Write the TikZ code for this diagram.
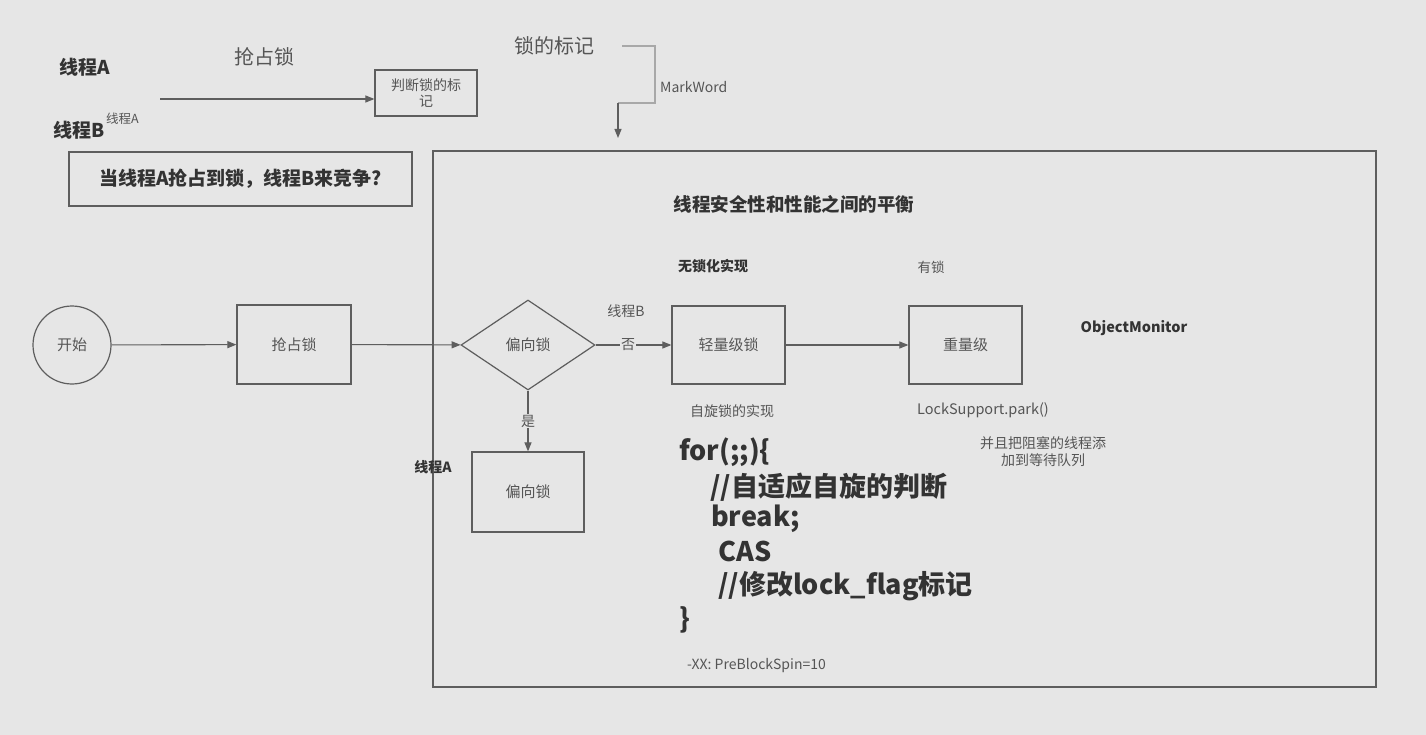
\documentclass[tikz,border=0pt]{standalone}
\usepackage{fontspec}
\setmainfont{Noto Sans CJK SC}
\usetikzlibrary{shapes.geometric,arrows.meta}
\definecolor{bg}{HTML}{E6E6E6}
\definecolor{ln}{HTML}{5E5E5E}
\definecolor{lnlight}{HTML}{A8A8A8}
\definecolor{txt}{HTML}{555555}
\definecolor{txtb}{HTML}{333333}
\tikzset{
  lbl/.style={inner sep=0pt, text=txt},
  lblb/.style={inner sep=0pt, text=txtb, font=\bfseries},
  boxn/.style={draw=ln, line width=1.2pt, inner sep=2pt, text=txt, align=center},
  conn/.style={draw=ln, line width=1.1pt, -{Triangle[length=9pt,width=7pt]}},
  codeb/.style={anchor=west, inner sep=0pt, text=txtb, font=\fontsize{27}{32}\selectfont\bfseries},
}
\newcommand\szz[2]{\fontsize{#1}{#2}\selectfont}
\begin{document}
\begin{tikzpicture}[x=1pt,y=-1pt]
\useasboundingbox (0,0) rectangle (1426,735);
\fill[bg] (0,0) rectangle (1426,735);

% top-left labels
\node[lblb, font=\szz{19}{23}\bfseries] (tA) at (85,67) {线程A};
\node[lbl, font=\szz{20}{24}] (grabt) at (264,57) {抢占锁};
\node[lblb, font=\szz{19}{23}\bfseries, anchor=west] (tB) at (53,130) {线程B};
\node[lbl, font=\szz{12.5}{15}, anchor=west] (tBsup) at (106,119) {线程A};
\coordinate (arrS) at (160,99);
\node[boxn, minimum width=102pt, minimum height=46pt, font=\szz{14}{16}] (judge) at (426,93) {判断锁的标\\记};
\draw[conn] (arrS) -- (arrS -| judge.west);

\node[boxn, minimum width=343pt, minimum height=54pt, text=txtb, font=\szz{19}{23}\bfseries] (quest) at (240.5,179) {当线程A抢占到锁，线程B来竞争?};

% mark word
\node[lbl, font=\szz{20}{24}] (mark) at (554,46) {锁的标记};
\coordinate (m1) at (622,46);
\coordinate (m2) at (655,46);
\coordinate (m3) at (655,103);
\coordinate (m4) at (618,103);
\coordinate (m5) at (618,138);
\draw[lnlight, line width=1.6pt] (m1) -- (m2) -- (m3) -- (m4);
\draw[conn] (m4) -- (m5);
\node[lbl, font=\szz{14}{17}, anchor=west] (mw) at (660,87) {MarkWord};

% frame
\node[draw=ln, line width=1.2pt, minimum width=943pt, minimum height=536pt, inner sep=0pt] (frame) at (904.5,419) {};
\node[lblb, font=\szz{18.5}{22}\bfseries] (title) at (794,204) {线程安全性和性能之间的平衡};
\node[lblb, font=\szz{14}{17}\bfseries] (nolock) at (713,266) {无锁化实现};
\node[lbl, font=\szz{13.5}{16}] (haslock) at (931,267) {有锁};

% flow
\node[draw=ln, line width=1.2pt, circle, minimum size=78pt, inner sep=0pt, text=txt, font=\szz{15}{18}] (start) at (72,345) {开始};
\node[boxn, minimum width=114pt, minimum height=79pt, font=\szz{15}{18}] (grab) at (294,344.5) {抢占锁};
\node[draw=ln, line width=1.2pt, diamond, minimum width=134pt, minimum height=90pt, inner sep=0pt, text=txt, font=\szz{15}{18}] (dia) at (528,345) {偏向锁};
\node[boxn, minimum width=113pt, minimum height=78pt, font=\szz{15}{18}] (light) at (728.5,345) {轻量级锁};
\node[boxn, minimum width=113pt, minimum height=78pt, font=\szz{15}{18}] (heavy) at (965.5,345) {重量级};
\node[boxn, minimum width=112pt, minimum height=80pt, font=\szz{15}{18}] (biased) at (528,492) {偏向锁};

\draw[conn] (start) -- (grab);
\draw[conn] (grab) -- (dia);
\draw[conn] (dia) -- node[pos=0.43, fill=bg, inner sep=1pt, text=txt, font=\szz{14}{17}] (no) {否} (light);
\draw[conn] (light) -- (heavy);
\draw[conn] (dia) -- node[midway, fill=bg, inner sep=1pt, text=txt, font=\szz{14}{17}] (yes) {是} (biased);

\node[lbl, font=\szz{14}{17}] (tBl) at (626,311) {线程B};
\node[lblb, font=\szz{14}{17}\bfseries] (tAl) at (433,467) {线程A};
\node[lblb, font=\szz{14.5}{17}\bfseries] (om) at (1134,328) {ObjectMonitor};
\node[lbl, font=\szz{14}{17}] (spin) at (732,411) {自旋锁的实现};
\node[lbl, font=\szz{14.5}{17}] (park) at (983,410) {LockSupport.park()};
\node[lbl, font=\szz{14}{17}, align=center] (queue) at (1043,452) {并且把阻塞的线程添\\加到等待队列};

% code
\node[codeb] (c1) at (679,452) {for(;;)\{};
\node[codeb] (c2) at (710,487) {//自适应自旋的判断};
\node[codeb] (c3) at (711,519) {break;};
\node[codeb] (c4) at (718,551) {CAS};
\node[codeb] (c5) at (718,586) {//修改lock\_flag标记};
\node[codeb] (c6) at (679,620) {\}};
\node[lbl, font=\szz{14}{17}, anchor=west] (xx) at (687,666) {-XX: PreBlockSpin=10};
\end{tikzpicture}
\end{document}
